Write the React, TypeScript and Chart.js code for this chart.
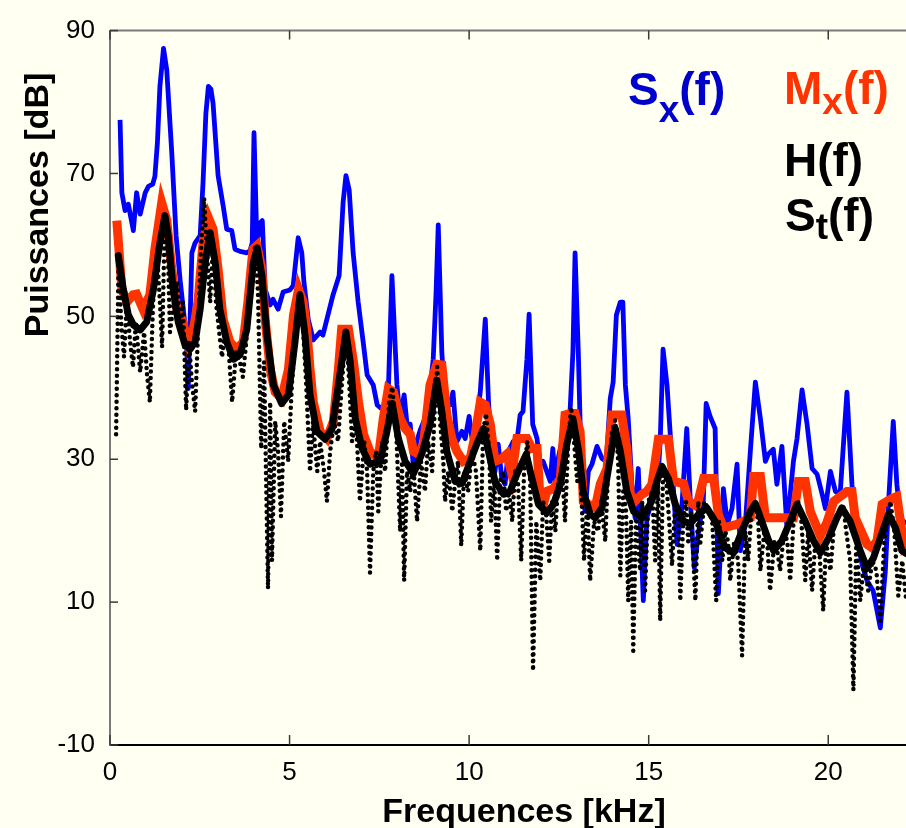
import React, { useEffect, useRef } from 'react';
import { Chart, registerables } from 'chart.js';

Chart.register(...registerables);

// ---------- data (kHz / dB) ----------
const xTickValues = [0, 5, 10, 15, 20];
const yTickValues = [-10, 10, 30, 50, 70, 90];

const xTitle = 'Frequences [kHz]';
const yTitle = 'Puissances [dB]';

// S_x(f) blue
const sxFreq = [
  0.28, 0.33, 0.42, 0.51, 0.65, 0.74, 0.84, 0.98, 1.07, 1.19,
  1.25, 1.32, 1.39, 1.49, 1.58, 1.72, 1.84, 1.95, 2.12, 2.18,
  2.28, 2.37, 2.51, 2.59, 2.67, 2.74, 2.81, 2.87, 3.01, 3.15,
  3.25, 3.39, 3.48, 3.62, 3.81, 3.90, 3.96, 4.01, 4.09, 4.18,
  4.24, 4.32, 4.46, 4.54, 4.68, 4.82, 5.01, 5.10, 5.24, 5.34,
  5.40, 5.52, 5.66, 5.85, 5.93, 6.07, 6.21, 6.38, 6.49, 6.57,
  6.66, 6.77, 6.91, 7.05, 7.16, 7.33, 7.44, 7.60, 7.74, 7.85,
  7.99, 8.08, 8.19, 8.27, 8.36, 8.44, 8.54, 8.64, 8.77, 8.86,
  9.00, 9.08, 9.14, 9.24, 9.33, 9.47, 9.55, 9.66, 9.80, 9.89,
  10.00, 10.08, 10.21, 10.31, 10.45, 10.54, 10.63, 10.72, 10.81, 10.91,
  11.00, 11.09, 11.23, 11.33, 11.42, 11.50, 11.61, 11.67, 11.77, 11.89,
  11.98, 12.06, 12.16, 12.26, 12.33, 12.40, 12.48, 12.58, 12.67, 12.81,
  12.89, 12.95, 13.04, 13.14, 13.23, 13.32, 13.42, 13.56, 13.70, 13.82,
  13.93, 14.01, 14.10, 14.21, 14.28, 14.35, 14.43, 14.53, 14.62, 14.71,
  14.85, 14.95, 15.09, 15.23, 15.32, 15.40, 15.51, 15.60, 15.68, 15.79,
  15.92, 16.06, 16.16, 16.27, 16.38, 16.52, 16.60, 16.71, 16.85, 16.94,
  17.08, 17.19, 17.32, 17.46, 17.55, 17.69, 17.83, 17.97, 18.11, 18.25,
  18.33, 18.47, 18.57, 18.71, 18.85, 19.03, 19.13, 19.27, 19.41, 19.55,
  19.69, 19.83, 19.92, 20.06, 20.20, 20.33, 20.52, 20.66, 20.80, 20.94,
  21.08, 21.25, 21.45, 21.59, 21.68, 21.81, 21.91, 22.01, 22.17,
];
const sxDb = [
  77.5, 67.3, 64.8, 65.7, 62.0, 67.3, 64.3, 67.3, 68.2, 68.5,
  69.6, 74.3, 82.2, 87.5, 84.5, 72.9, 61.3, 55.2, 47.4, 39.9,
  58.9, 60.3, 61.3, 68.7, 78.4, 82.2, 81.8, 79.8, 69.7, 65.5,
  62.2, 62.0, 59.4, 59.1, 58.9, 59.2, 60.3, 75.7, 60.3, 63.1,
  63.4, 53.8, 51.6, 52.4, 51.0, 53.4, 53.7, 54.3, 61.0, 58.9,
  54.8, 49.6, 46.7, 47.8, 47.4, 50.2, 53.0, 55.7, 65.9, 69.7,
  67.7, 58.9, 52.0, 46.4, 41.8, 40.4, 37.6, 36.9, 38.0, 55.7,
  40.4, 35.7, 39.0, 34.9, 34.9, 29.3, 32.5, 34.1, 35.7, 37.6,
  44.0, 53.4, 62.8, 45.0, 37.6, 37.6, 39.4, 32.5, 33.9, 32.9,
  36.0, 32.9, 35.7, 39.4, 49.6, 38.0, 31.1, 28.3, 32.1, 27.3,
  26.5, 31.1, 32.5, 32.5, 36.2, 36.7, 44.0, 50.3, 34.9, 32.9,
  29.3, 29.7, 28.3, 26.9, 31.5, 26.9, 30.1, 32.5, 32.9, 36.7,
  45.0, 58.9, 45.0, 25.5, 22.7, 28.3, 29.3, 31.8, 30.1, 29.7,
  38.5, 40.8, 50.2, 52.0, 52.0, 40.4, 35.7, 26.5, 21.8, 28.7,
  10.2, 21.8, 24.1, 25.1, 32.5, 45.4, 40.4, 33.5, 26.5, 18.1,
  23.1, 34.3, 24.1, 14.8, 19.5, 24.1, 37.8, 36.0, 34.3, 11.2,
  25.9, 20.9, 23.1, 29.3, 17.2, 20.9, 31.1, 40.8, 35.7, 29.7,
  30.7, 31.4, 26.5, 31.8, 20.4, 29.7, 32.9, 39.7, 34.9, 28.7,
  27.9, 25.1, 23.1, 28.3, 25.5, 25.1, 39.4, 26.5, 19.0, 15.3,
  13.0, 11.6, 6.4, 14.4, 24.1, 35.3, 26.5, 21.8, 20.9,
];

// M_x(f) orange
const mxFreq = [
  0.19, 0.33, 0.47, 0.64, 0.74, 0.92, 1.11, 1.25, 1.44, 1.58,
  1.72, 1.86, 2.03, 2.18, 2.31, 2.45, 2.59, 2.74, 2.87, 3.01,
  3.15, 3.34, 3.53, 3.71, 3.84, 3.98, 4.09, 4.23, 4.32, 4.46,
  4.60, 4.78, 4.97, 5.11, 5.25, 5.38, 5.48, 5.57, 5.66, 5.85,
  6.04, 6.22, 6.36, 6.45, 6.64, 6.78, 6.92, 7.06, 7.24, 7.47,
  7.61, 7.75, 7.89, 8.08, 8.22, 8.36, 8.45, 8.59, 8.73, 8.91,
  9.10, 9.24, 9.38, 9.52, 9.66, 9.84, 10.03, 10.17, 10.31, 10.45,
  10.59, 10.72, 10.91, 11.05, 11.19, 11.33, 11.61, 11.75, 11.89, 11.98,
  12.07, 12.16, 12.35, 12.54, 12.67, 12.81, 12.95, 13.09, 13.18, 13.32,
  13.51, 13.65, 13.84, 13.98, 14.25, 14.39, 14.49, 14.62, 14.81, 14.95,
  15.09, 15.27, 15.55, 15.69, 15.97, 16.11, 16.34, 16.53, 16.81, 16.94,
  17.08, 17.46, 17.83, 17.92, 18.11, 18.25, 19.03, 19.17, 19.36, 19.50,
  19.78, 19.96, 20.15, 20.52, 20.66, 20.75, 21.08, 21.22, 21.36, 21.50,
  21.77, 21.91, 22.10, 22.17,
];
const mxDb = [
  63.4, 53.8, 52.0, 53.0, 53.1, 51.0, 53.0, 59.4, 65.9, 63.5,
  56.6, 51.0, 49.2, 46.0, 47.8, 52.0, 60.3, 63.8, 62.2, 56.6,
  49.6, 46.4, 45.4, 46.4, 52.0, 59.4, 59.9, 56.6, 49.6, 42.6,
  39.4, 38.5, 42.6, 50.2, 53.8, 52.0, 48.2, 42.6, 38.0, 33.9,
  32.9, 35.3, 42.6, 48.2, 48.2, 43.6, 38.0, 33.5, 31.1, 30.1,
  35.7, 39.9, 39.4, 35.7, 34.3, 33.5, 31.1, 30.7, 32.1, 40.4,
  43.3, 43.2, 36.2, 32.9, 31.1, 29.7, 30.1, 33.5, 38.0, 37.6,
  34.9, 29.7, 30.1, 30.7, 27.9, 32.9, 32.9, 31.5, 31.5, 24.1,
  23.7, 25.5, 25.9, 27.3, 36.2, 36.4, 36.4, 33.9, 24.1, 23.7,
  23.2, 26.5, 28.7, 36.2, 36.2, 31.5, 25.1, 24.1, 25.1, 25.5,
  26.5, 32.8, 32.8, 26.9, 26.6, 24.1, 23.4, 27.3, 27.3, 22.3,
  20.4, 20.9, 21.8, 27.6, 27.6, 21.8, 21.8, 26.9, 26.9, 22.7,
  19.3, 21.1, 24.1, 25.5, 25.5, 21.8, 18.1, 17.6, 18.6, 23.7,
  24.5, 24.8, 18.1, 18.6,
];

// H(f) thick black
const hFreq = [
  0.23, 0.37, 0.51, 0.65, 0.84, 1.02, 1.21, 1.39, 1.53, 1.62,
  1.76, 1.90, 2.09, 2.23, 2.37, 2.51, 2.65, 2.79, 2.93, 3.06,
  3.25, 3.44, 3.62, 3.81, 3.99, 4.10, 4.23, 4.37, 4.55, 4.78,
  4.97, 5.15, 5.29, 5.43, 5.57, 5.76, 5.99, 6.18, 6.36, 6.57,
  6.69, 6.83, 7.02, 7.24, 7.52, 7.71, 7.86, 8.03, 8.22, 8.45,
  8.68, 8.91, 9.10, 9.24, 9.38, 9.61, 9.80, 10.03, 10.21, 10.40,
  10.54, 10.72, 10.96, 11.14, 11.33, 11.59, 11.75, 11.93, 12.16, 12.35,
  12.54, 12.72, 12.89, 13.05, 13.18, 13.37, 13.51, 13.70, 13.88, 14.07,
  14.21, 14.39, 14.58, 14.81, 15.04, 15.23, 15.37, 15.55, 15.74, 15.97,
  16.16, 16.39, 16.62, 16.85, 17.13, 17.36, 17.60, 17.83, 17.97, 18.15,
  18.34, 18.48, 18.71, 18.94, 19.13, 19.36, 19.59, 19.78, 20.01, 20.24,
  20.38, 20.61, 20.89, 21.08, 21.26, 21.45, 21.68, 21.87, 22.05, 22.17,
];
const hDb = [
  58.5, 53.8, 50.2, 48.8, 48.1, 49.2, 53.8, 60.3, 64.1, 61.3,
  53.8, 49.2, 46.0, 45.4, 46.4, 51.0, 57.5, 61.7, 57.5, 51.0,
  46.4, 44.0, 44.6, 48.2, 57.5, 59.6, 55.7, 47.4, 40.4, 37.8,
  39.0, 46.4, 53.0, 47.4, 39.0, 33.9, 32.8, 34.3, 40.4, 47.8,
  43.6, 35.7, 31.5, 29.3, 29.7, 33.9, 37.8, 32.9, 29.7, 28.0,
  30.7, 34.8, 41.1, 36.7, 31.1, 26.9, 26.6, 29.7, 32.1, 34.3,
  31.1, 26.9, 25.1, 25.5, 27.9, 30.7, 27.3, 23.7, 22.5, 23.7,
  26.5, 32.1, 35.7, 31.1, 25.5, 22.3, 21.8, 23.2, 28.7, 34.3,
  31.1, 25.5, 22.7, 21.8, 23.7, 26.9, 29.0, 27.3, 23.7, 21.3,
  21.0, 22.3, 23.2, 21.3, 17.6, 16.9, 20.0, 22.7, 23.8, 21.3,
  18.6, 17.2, 18.6, 21.3, 23.7, 21.3, 18.6, 16.9, 19.0, 21.8,
  23.2, 21.3, 17.2, 14.7, 16.2, 19.0, 22.3, 20.4, 17.2, 16.8,
];

// S_t(f) dotted black
const stFreq = [
  0.17, 0.24, 0.31, 0.39, 0.47, 0.56, 0.64, 0.72, 0.84, 0.95,
  1.03, 1.11, 1.20, 1.31, 1.39, 1.45, 1.53, 1.62, 1.67, 1.78,
  1.87, 1.95, 2.03, 2.12, 2.20, 2.28, 2.37, 2.45, 2.53, 2.62,
  2.70, 2.79, 2.87, 2.95, 3.04, 3.12, 3.20, 3.29, 3.40, 3.51,
  3.62, 3.70, 3.82, 3.93, 4.04, 4.12, 4.21, 4.29, 4.40, 4.46,
  4.51, 4.60, 4.68, 4.76, 4.85, 4.96, 5.07, 5.18, 5.29, 5.38,
  5.46, 5.57, 5.65, 5.77, 5.85, 5.96, 6.04, 6.13, 6.24, 6.35,
  6.46, 6.57, 6.66, 6.74, 6.85, 6.96, 7.08, 7.16, 7.24, 7.33,
  7.41, 7.47, 7.58, 7.66, 7.77, 7.86, 7.97, 8.08, 8.13, 8.19,
  8.27, 8.36, 8.44, 8.55, 8.66, 8.77, 8.86, 8.97, 9.05, 9.11,
  9.19, 9.28, 9.33, 9.42, 9.53, 9.61, 9.69, 9.78, 9.86, 9.97,
  10.08, 10.19, 10.31, 10.39, 10.47, 10.56, 10.61, 10.70, 10.78, 10.86,
  10.95, 11.03, 11.11, 11.20, 11.28, 11.36, 11.45, 11.53, 11.62, 11.70,
  11.78, 11.87, 11.98, 12.06, 12.14, 12.23, 12.31, 12.40, 12.48, 12.59,
  12.67, 12.76, 12.84, 12.92, 13.01, 13.09, 13.20, 13.29, 13.37, 13.48,
  13.59, 13.68, 13.79, 13.87, 13.98, 14.07, 14.15, 14.21, 14.29, 14.37,
  14.43, 14.51, 14.57, 14.65, 14.76, 14.82, 14.90, 14.99, 15.10, 15.18,
  15.26, 15.32, 15.40, 15.49, 15.57, 15.65, 15.74, 15.82, 15.88, 15.96,
  16.04, 16.10, 16.18, 16.30, 16.38, 16.43, 16.55, 16.66, 16.77, 16.88,
  16.96, 17.05, 17.13, 17.21, 17.27, 17.38, 17.49, 17.60, 17.69, 17.77,
  17.86, 17.97, 18.05, 18.11, 18.22, 18.30, 18.38, 18.50, 18.58, 18.66,
  18.77, 18.86, 18.94, 19.05, 19.16, 19.25, 19.36, 19.44, 19.55, 19.64,
  19.75, 19.86, 19.94, 20.06, 20.17, 20.28, 20.42, 20.50, 20.61, 20.70,
  20.78, 20.89, 21.00, 21.11, 21.23, 21.34, 21.45, 21.56, 21.64, 21.73,
  21.84, 21.95, 22.06, 22.17,
];
const stDb = [
  33.5, 58.5, 49.2, 44.3, 52.0, 46.4, 42.9, 49.2, 42.2, 47.8,
  41.9, 38.0, 52.0, 58.9, 52.0, 45.7, 64.1, 57.5, 47.8, 52.0,
  54.8, 47.8, 52.0, 36.9, 46.4, 40.8, 36.7, 47.8, 58.9, 66.6,
  58.9, 52.0, 60.3, 52.0, 47.8, 44.3, 47.8, 46.4, 38.0, 45.0,
  43.6, 41.5, 47.8, 54.8, 59.9, 53.4, 31.5, 43.6, 11.9, 38.0,
  15.8, 35.3, 31.1, 22.0, 35.3, 29.7, 40.8, 47.8, 53.4, 47.8,
  40.8, 28.3, 35.3, 28.3, 32.5, 28.3, 24.1, 31.1, 35.3, 32.5,
  40.8, 47.8, 40.8, 32.5, 35.3, 24.1, 32.5, 28.3, 14.1, 28.3,
  31.1, 22.7, 32.5, 28.3, 38.0, 40.1, 33.9, 19.9, 29.7, 13.0,
  28.3, 25.5, 29.7, 21.3, 29.7, 25.5, 32.5, 28.3, 38.0, 42.9,
  35.3, 29.7, 24.1, 28.3, 22.7, 26.9, 29.7, 17.9, 28.3, 25.5,
  31.1, 28.3, 17.2, 33.9, 36.4, 31.1, 21.3, 26.9, 15.8, 26.9,
  28.3, 22.7, 25.5, 21.3, 28.3, 26.9, 15.8, 28.3, 32.5, 26.9,
  0.4, 21.3, 13.0, 24.1, 22.7, 15.8, 24.1, 19.9, 26.9, 28.3,
  21.3, 32.5, 37.3, 32.5, 26.9, 29.7, 15.8, 24.1, 13.0, 21.3,
  19.9, 24.1, 18.5, 28.3, 33.9, 35.5, 29.7, 13.7, 25.5, 22.7,
  10.2, 21.3, 3.2, 22.7, 14.4, 24.1, 11.6, 24.1, 25.5, 15.8,
  26.9, 7.4, 28.3, 26.9, 21.3, 15.1, 24.1, 22.7, 10.2, 21.3,
  24.1, 18.5, 22.7, 10.2, 24.1, 17.9, 24.1, 23.0, 21.3, 10.2,
  21.3, 15.8, 19.9, 18.5, 13.0, 18.5, 15.8, 2.5, 19.9, 15.8,
  22.7, 23.4, 21.3, 14.4, 19.9, 18.5, 11.6, 18.5, 17.2, 14.4,
  19.9, 18.5, 13.0, 22.7, 24.1, 21.3, 13.0, 19.9, 11.6, 18.5,
  17.2, 8.8, 18.5, 14.4, 21.3, 22.7, 23.4, 19.9, 15.8, -2.3,
  18.5, 10.2, 15.8, 11.6, 15.8, 14.4, 7.4, 18.5, 21.3, 24.1,
  19.9, 10.9, 15.8, 10.2,
];

const seriesLabels = ['S_t(f)', 'H(f)', 'M_x(f)', 'S_x(f)'];

// ---------- helpers ----------
const FONT = '"Liberation Sans", Arial, Helvetica, sans-serif';
const pts = (xs: number[], ys: number[]) => {
  const n = Math.min(xs.length, ys.length);
  const out: { x: number; y: number }[] = [];
  for (let i = 0; i < n; i++) out.push({ x: xs[i], y: ys[i] });
  return out;
};

function drawSubLabel(
  ctx: CanvasRenderingContext2D,
  x: number,
  baseline: number,
  main: string,
  sub: string,
  rest: string,
  subBaseline: number,
  color: string
) {
  ctx.fillStyle = color;
  ctx.textAlign = 'left';
  ctx.textBaseline = 'alphabetic';
  ctx.font = `bold 46px ${FONT}`;
  ctx.fillText(main, x, baseline);
  let cx = x + ctx.measureText(main).width;
  if (sub) {
    ctx.font = `bold 37px ${FONT}`;
    ctx.fillText(sub, cx, subBaseline);
    cx += ctx.measureText(sub).width;
    ctx.font = `bold 46px ${FONT}`;
  }
  ctx.fillText(rest, cx, baseline);
}

const decorPlugin = {
  id: 'decor',
  afterDraw(chart: any) {
    const { ctx, chartArea, scales } = chart;
    const xs = scales.x;
    const ys = scales.y;
    ctx.save();
    // top frame line
    ctx.strokeStyle = '#7a7a7a';
    ctx.lineWidth = 2;
    ctx.beginPath();
    ctx.moveTo(chartArea.left, chartArea.top);
    ctx.lineTo(chartArea.right, chartArea.top);
    ctx.stroke();
    // inward tick marks
    ctx.strokeStyle = '#3a3a3a';
    ctx.lineWidth = 1.5;
    for (const v of xTickValues) {
      const px = xs.getPixelForValue(v);
      ctx.beginPath();
      ctx.moveTo(px, chartArea.bottom);
      ctx.lineTo(px, chartArea.bottom - 10);
      ctx.moveTo(px, chartArea.top);
      ctx.lineTo(px, chartArea.top + 9);
      ctx.stroke();
    }
    for (const v of yTickValues) {
      const py = ys.getPixelForValue(v);
      ctx.beginPath();
      ctx.moveTo(chartArea.left, py);
      ctx.lineTo(chartArea.left + 8, py);
      ctx.stroke();
    }
    // axis titles
    ctx.fillStyle = '#000';
    ctx.font = `bold 34px ${FONT}`;
    ctx.textAlign = 'center';
    ctx.textBaseline = 'alphabetic';
    ctx.fillText(xTitle, 524, 822);
    ctx.save();
    ctx.translate(48, 205);
    ctx.rotate(-Math.PI / 2);
    ctx.fillText(yTitle, 0, 0);
    ctx.restore();
    // series labels
    drawSubLabel(ctx, 628, 104.5, 'S', 'x', '(f)', 121.5, '#0000CC');
    drawSubLabel(ctx, 784, 103.5, 'M', 'x', '(f)', 113.5, '#FF3300');
    drawSubLabel(ctx, 784, 176, 'H(f)', '', '', 176, '#000000');
    drawSubLabel(ctx, 785, 231, 'S', 't', '(f)', 239, '#000000');
    ctx.restore();
  },
};

export default function App() {
  const ref = useRef<HTMLCanvasElement | null>(null);
  useEffect(() => {
    if (!ref.current) return;
    const chart = new Chart(ref.current, {
      type: 'line',
      data: {
        datasets: [
          {
            label: seriesLabels[0],
            data: pts(stFreq, stDb),
            borderColor: '#000000',
            borderWidth: 4.5,
            borderDash: [0, 6.5],
            borderCapStyle: 'round',
            pointRadius: 0,
            fill: false,
            order: 1,
          },
          {
            label: seriesLabels[1],
            data: pts(hFreq, hDb),
            borderColor: '#000000',
            borderWidth: 7,
            borderJoinStyle: 'round',
            borderCapStyle: 'round',
            pointRadius: 0,
            fill: false,
            order: 2,
          },
          {
            label: seriesLabels[2],
            data: pts(mxFreq, mxDb),
            borderColor: '#FF3300',
            borderWidth: 9,
            borderJoinStyle: 'miter',
            pointRadius: 0,
            fill: false,
            order: 3,
          },
          {
            label: seriesLabels[3],
            data: pts(sxFreq, sxDb),
            borderColor: '#0000FF',
            borderWidth: 4.8,
            borderJoinStyle: 'round',
            pointRadius: 0,
            fill: false,
            order: 4,
          },
        ],
      },
      options: {
        responsive: false,
        animation: false,
        devicePixelRatio: 1,
        layout: { padding: { top: 27, right: 4, left: 0, bottom: 0 } },
        plugins: { legend: { display: false }, tooltip: { enabled: false } },
        scales: {
          x: {
            type: 'linear',
            min: 0,
            max: 23,
            afterBuildTicks: (s: any) => {
              s.ticks = xTickValues.map((v) => ({ value: v }));
            },
            afterFit: (s: any) => {
              s.height = 83;
            },
            grid: { display: false, drawTicks: false },
            border: { display: true, color: '#000000', width: 2 },
            ticks: {
              padding: 12,
              color: '#000',
              font: { family: FONT, size: 26 },
              maxRotation: 0,
              autoSkip: false,
            },
          },
          y: {
            type: 'linear',
            min: -10,
            max: 90,
            afterBuildTicks: (s: any) => {
              s.ticks = yTickValues.map((v) => ({ value: v }));
            },
            afterFit: (s: any) => {
              s.width = 110;
            },
            grid: { display: false, drawTicks: false },
            border: { display: true, color: '#7a7a7a', width: 2 },
            ticks: {
              padding: 15,
              color: '#000',
              font: { family: FONT, size: 26 },
              autoSkip: false,
            },
          },
        },
      },
      plugins: [decorPlugin],
    } as any);
    return () => chart.destroy();
  }, []);

  return (
    <div
      style={{
        position: 'fixed',
        left: 0,
        top: 0,
        width: 906,
        height: 828,
        overflow: 'hidden',
        background: '#FFFFF2',
      }}
    >
      <canvas
        ref={ref}
        width={940}
        height={828}
        style={{ display: 'block', width: 940, height: 828 }}
      />
    </div>
  );
}
